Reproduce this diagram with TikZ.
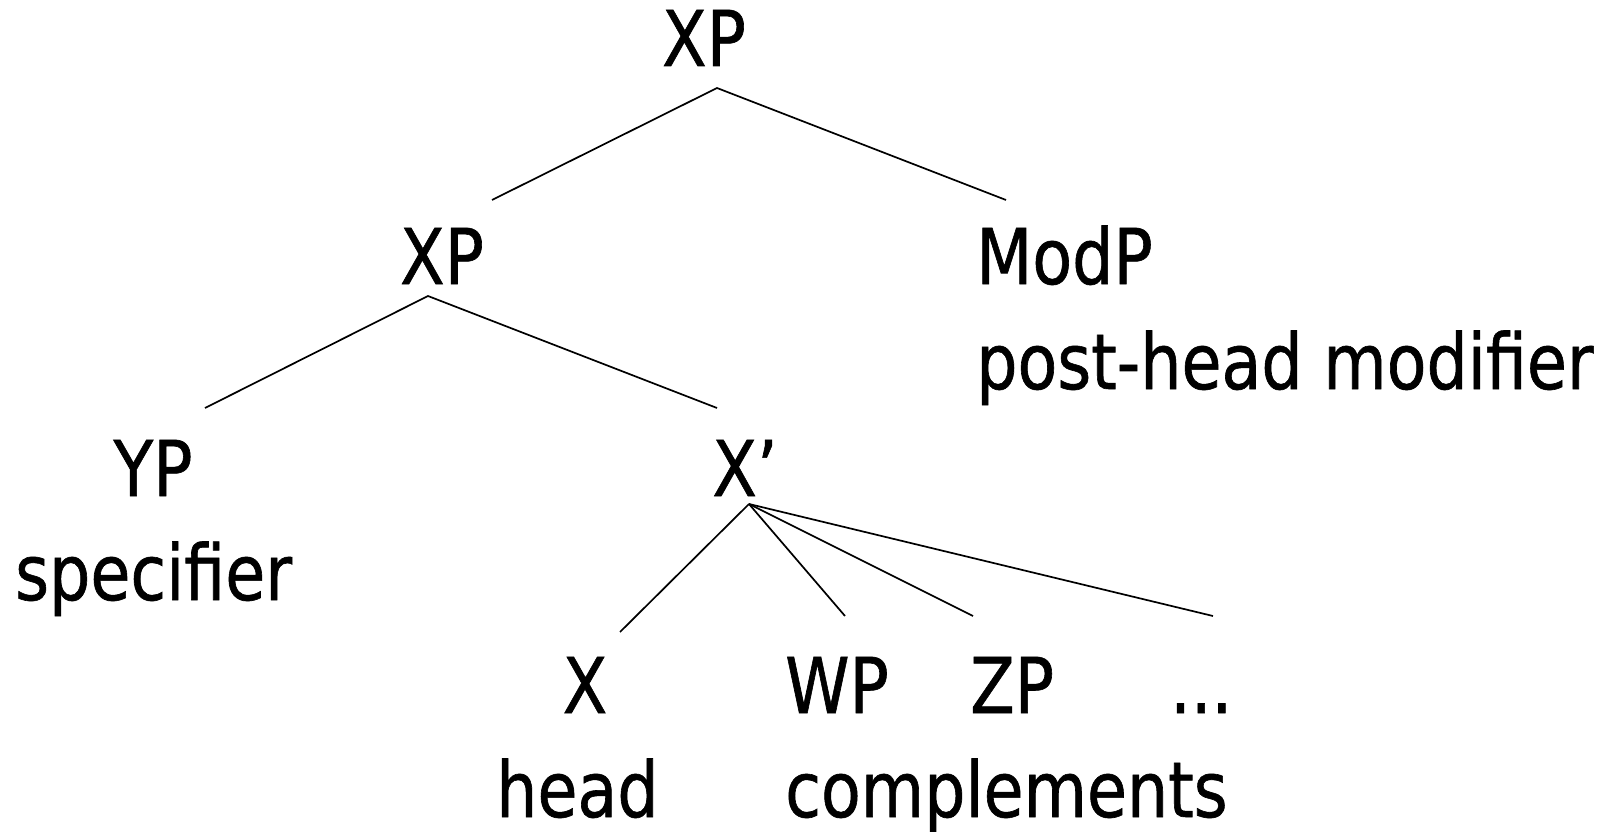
\documentclass[tikz,border=0pt]{standalone}
\usepackage{fontspec}
\setmainfont{DejaVu Sans}[FakeStretch=0.845,FakeBold=0.8]
\begin{document}
\begin{tikzpicture}[x=1pt,y=-1pt,
  lbl/.style={inner sep=0pt,anchor=base,font=\fontsize{77}{92}\selectfont},
  lblw/.style={lbl,anchor=base west},
  branch/.style={line width=1.7pt,black}]
\useasboundingbox (0,0) rectangle (1607,832);
% labels
\node[lbl] (xp1) at (704,66) {XP};
\node[lbl] (xp2) at (442,284) {XP};
\node[lblw] (modp) at (976,284) {ModP};
\node[lblw] (modl) at (976,389) {post-head modifier};
\node[lbl] (yp) at (153,496) {YP};
\node[lblw] (spec) at (15,600) {specifier};
\node[lbl] (xbar) at (745,496) {X’};
\node[lbl] (x) at (585,713) {X};
\node[lblw] (wp) at (785,713) {WP};
\node[lblw] (zp) at (970,713) {ZP};
\node[lblw] (dots) at (1170,713) {...};
\node[lblw] (head) at (496,817) {head};
\node[lblw] (comp) at (785,817) {complements};
% branch points
\coordinate (a1) at (717,88);
\coordinate (a1l) at (492,200);
\coordinate (a1r) at (1006,200);
\coordinate (a2) at (428,296);
\coordinate (a2l) at (205,408);
\coordinate (a2r) at (717,408);
\coordinate (a3) at (749,504);
\coordinate (c1) at (620,632);
\coordinate (c2) at (845,616);
\coordinate (c3) at (973,616);
\coordinate (c4) at (1213,616);
% branches
\draw[branch] (a1l) -- (a1) -- (a1r);
\draw[branch] (a2l) -- (a2) -- (a2r);
\draw[branch] (a3) -- (c1);
\draw[branch] (a3) -- (c2);
\draw[branch] (a3) -- (c3);
\draw[branch] (a3) -- (c4);
\end{tikzpicture}
\end{document}
